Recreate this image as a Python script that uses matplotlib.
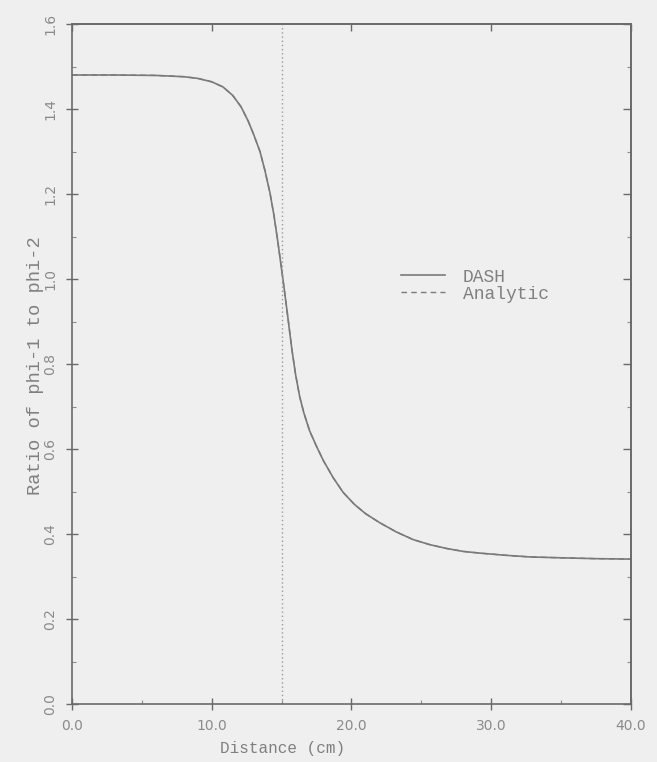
import numpy as np
import matplotlib.pyplot as plt
from matplotlib.ticker import MultipleLocator, FormatStrFormatter

# Flux ratio phi-1/phi-2 across the core interface
distance = [0.0, 3.0, 6.0, 8.0, 9.0, 10.0, 10.8, 11.5, 12.1, 12.6, 13.0, 13.45,
            13.8, 14.17, 14.45, 14.74, 15.1, 15.38, 15.74, 16.0, 16.3, 16.6,
            17.0, 17.5, 18.0, 18.7, 19.4, 20.2, 21.0, 22.0, 23.2, 24.4, 25.6,
            26.8, 28.0, 29.2, 31.0, 32.8, 35.0, 37.5, 40.0]
ratio_dash = [1.48, 1.48, 1.479, 1.476, 1.472, 1.464, 1.452, 1.432, 1.405, 1.372,
              1.340, 1.300, 1.256, 1.202, 1.150, 1.085, 0.998, 0.927, 0.833,
              0.775, 0.722, 0.684, 0.643, 0.606, 0.572, 0.532, 0.498, 0.470,
              0.448, 0.427, 0.405, 0.387, 0.375, 0.366, 0.359, 0.355, 0.350,
              0.346, 0.344, 0.342, 0.341]
ratio_analytic = list(ratio_dash)
interface_x = 15.0

bg = "#efefef"
ink = "#7a7a7a"
text_col = "#808080"
mono = "Liberation Mono"

fig = plt.figure(figsize=(6.57, 7.62), dpi=100, facecolor=bg)
ax = fig.add_axes([0.1096, 0.0761, 0.8508, 0.8924], facecolor=bg)

ax.plot(distance, ratio_dash, color=ink, lw=1.2, label="DASH")
ax.plot(distance, ratio_analytic, color=ink, lw=1.0, ls=(0, (4, 3)), label="Analytic")
ax.axvline(interface_x, color="#9a9a9a", lw=1.0, ls=(0, (1, 2)))

ax.set_xlim(0, 40)
ax.set_ylim(0, 1.6)
ax.xaxis.set_major_locator(MultipleLocator(10))
ax.xaxis.set_minor_locator(MultipleLocator(5))
ax.yaxis.set_major_locator(MultipleLocator(0.2))
ax.yaxis.set_minor_locator(MultipleLocator(0.1))
ax.xaxis.set_major_formatter(FormatStrFormatter("%.1f"))
ax.yaxis.set_major_formatter(FormatStrFormatter("%.1f"))

for s in ax.spines.values():
    s.set_color("#6a6a6a")
    s.set_linewidth(1.2)

# crossing ticks on the labelled sides, inward ticks on top/right
ax.tick_params(which="major", direction="inout", length=9, width=1.0,
               color="#6a6a6a", labelcolor="#8a8a8a", labelsize=10)
ax.tick_params(which="minor", direction="in", length=3, width=0.8,
               color="#8a8a8a")
ax.tick_params(axis="y", which="major", labelrotation=90, pad=6)
ax.tick_params(axis="x", which="major", pad=6)
for lab in ax.get_yticklabels():
    lab.set_verticalalignment("center")
for lab in ax.get_xticklabels() + ax.get_yticklabels():
    lab.set_family("DejaVu Sans")

top = ax.secondary_xaxis("top")
top.xaxis.set_major_locator(MultipleLocator(10))
top.tick_params(direction="in", length=5, width=1.0, color="#6a6a6a", labeltop=False)
right = ax.secondary_yaxis("right")
right.yaxis.set_major_locator(MultipleLocator(0.2))
right.yaxis.set_minor_locator(MultipleLocator(0.1))
right.tick_params(which="major", direction="in", length=6, width=1.0,
                  color="#6a6a6a", labelright=False)
right.tick_params(which="minor", direction="in", length=3, width=0.8, color="#8a8a8a")
for sec in (top, right):
    for s in sec.spines.values():
        s.set_color("#6a6a6a")
        s.set_linewidth(1.2)

ax.set_xlabel("Distance (cm)", family=mono, fontsize=11.5, color=text_col)
ax.xaxis.set_label_coords(0.377, -0.055)
ax.set_ylabel("Ratio of phi-1 to phi-2", family=mono, fontsize=13.5, color=text_col)
ax.yaxis.set_label_coords(-0.05, 0.497)

leg = ax.legend(loc="center left", bbox_to_anchor=(0.56, 0.615), frameon=False,
                handlelength=2.4, handletextpad=1.0, labelspacing=0.0,
                prop={"family": mono, "size": 13})
for t in leg.get_texts():
    t.set_color(text_col)

fig.savefig("out.png", dpi=100, facecolor=bg)
